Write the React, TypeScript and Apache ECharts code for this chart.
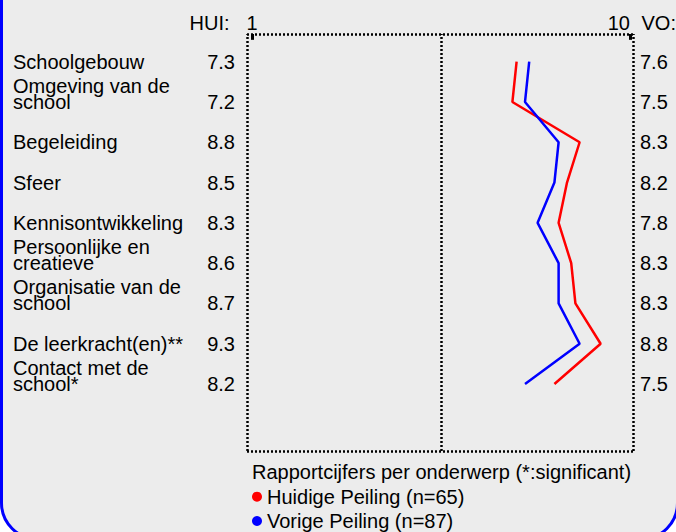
import React, { useEffect, useRef } from "react";
import * as echarts from "echarts";

const categories = [
  "Schoolgebouw",
  "Omgeving van de\nschool",
  "Begeleiding",
  "Sfeer",
  "Kennisontwikkeling",
  "Persoonlijke en\ncreatieve",
  "Organisatie van de\nschool",
  "De leerkracht(en)**",
  "Contact met de\nschool*",
];
const huidige = [7.3, 7.2, 8.8, 8.5, 8.3, 8.6, 8.7, 9.3, 8.2];
const vorige = [7.6, 7.5, 8.3, 8.2, 7.8, 8.3, 8.3, 8.8, 7.5];
const scaleMin = 1;
const scaleMax = 10;
const seriesNames = ["Huidige Peiling (n=65)", "Vorige Peiling (n=87)"];
const columnHeaders = ["HUI:", "VO:"];
const chartTitle = "Rapportcijfers per onderwerp (*:significant)";

const FONT = "'Liberation Sans', Arial, sans-serif";
const X_LO = 0.881;
const X_HI = 10.071;

export default function App() {
  const ref = useRef<HTMLDivElement>(null);
  useEffect(() => {
    if (!ref.current) return;
    const chart = echarts.init(ref.current, undefined, { renderer: "svg" });
    const dotted = { color: "#000000", width: 2.5, type: [2, 2] as any, opacity: 1 };
    const tickStyle = { color: "#000000", width: 3, type: "solid" as any, opacity: 1 };
    const hiddenAxis = { axisLine: { show: false }, axisTick: { show: false }, splitLine: { show: false } };
    const option: any = {
      animation: false,
      backgroundColor: "transparent",
      textStyle: { fontFamily: FONT, color: "#000" },
      graphic: [
        {
          type: "rect",
          z: -10,
          shape: { x: 1.5, y: -40, width: 676, height: 579, r: 36 },
          style: { fill: "#ececec", stroke: "#0000ff", lineWidth: 3 },
        },
        {
          type: "text",
          x: 229.5,
          y: 23,
          style: { text: columnHeaders[0], align: "right", verticalAlign: "middle", fontSize: 20, fontFamily: FONT, fill: "#000" },
        },
        {
          type: "text",
          x: 641.5,
          y: 23,
          style: { text: columnHeaders[1], align: "left", verticalAlign: "middle", fontSize: 20, fontFamily: FONT, fill: "#000" },
        },
      ],
      title: {
        text: chartTitle,
        left: 252,
        top: 462.4,
        padding: 0,
        textStyle: { fontSize: 20, fontWeight: "normal", color: "#000", fontFamily: FONT },
      },
      legend: {
        data: seriesNames,
        orient: "vertical",
        left: 252,
        top: 486.7,
        padding: 0,
        itemGap: 4.3,
        icon: "circle",
        itemWidth: 10,
        itemHeight: 10,
        selectedMode: false,
        textStyle: { fontSize: 20, color: "#000", fontFamily: FONT },
      },
      grid: [
        { left: 247, top: 34, width: 386, height: 417 },
        { left: 247, top: 41.5, width: 386, height: 362.7 },
        { left: 252, top: 34.3, width: 378, height: 10 },
      ],
      xAxis: [
        { gridIndex: 0, type: "value", min: X_LO, max: X_HI, show: false },
        { gridIndex: 1, type: "value", min: X_LO, max: X_HI, show: false },
        {
          gridIndex: 2,
          type: "value",
          min: scaleMin,
          max: scaleMax,
          interval: scaleMax - scaleMin,
          position: "top",
          ...hiddenAxis,
          axisLabel: { margin: 1, fontSize: 20, color: "#000", fontFamily: FONT, alignMaxLabel: "right" },
        },
      ],
      yAxis: [
        { gridIndex: 0, type: "value", min: 0, max: 1, show: false },
        {
          gridIndex: 1, type: "category", inverse: true, data: categories, position: "left", offset: 233,
          ...hiddenAxis,
          axisLabel: {
            interval: 0, align: "left", margin: 1, fontSize: 20, lineHeight: 16, color: "#000", fontFamily: FONT,
            formatter: (v: string) => (v.indexOf("\n") >= 0 ? v + "\n" : v),
          },
        },
        {
          gridIndex: 1, type: "category", inverse: true, data: categories, position: "left", offset: 0,
          ...hiddenAxis,
          axisLabel: { interval: 0, margin: 12, fontSize: 20, color: "#000", fontFamily: FONT, formatter: (_v: string, i: number) => huidige[i].toFixed(1) },
        },
        {
          gridIndex: 1, type: "category", inverse: true, data: categories, position: "right", offset: 0,
          ...hiddenAxis,
          axisLabel: { interval: 0, margin: 7, fontSize: 20, color: "#000", fontFamily: FONT, formatter: (_v: string, i: number) => vorige[i].toFixed(1) },
        },
        { gridIndex: 2, type: "value", min: 0, max: 1, show: false },
      ],
      series: [
        {
          name: "frame",
          type: "line",
          xAxisIndex: 0,
          yAxisIndex: 0,
          data: [[(scaleMin + scaleMax) / 2, 0.5]],
          symbol: "none",
          lineStyle: { opacity: 0 },
          clip: false,
          silent: true,
          markLine: {
            silent: true,
            symbol: "none",
            label: { show: false },
            emphasis: { disabled: true },
            data: [
              [{ coord: [X_LO, 0], lineStyle: dotted }, { coord: [X_LO, 1] }],
              [{ coord: [X_HI, 0], lineStyle: dotted }, { coord: [X_HI, 1] }],
              [{ coord: [X_LO, 1], lineStyle: dotted }, { coord: [X_HI, 1] }],
              [{ coord: [X_LO, 0], lineStyle: dotted }, { coord: [X_HI, 0] }],
              [{ coord: [(scaleMin + scaleMax) / 2, 0], lineStyle: dotted }, { coord: [(scaleMin + scaleMax) / 2, 1] }],
              [{ coord: [scaleMin, 1], lineStyle: tickStyle }, { coord: [scaleMin, 0.986] }],
              [{ coord: [scaleMax, 1], lineStyle: tickStyle }, { coord: [scaleMax, 0.986] }],
            ],
          },
        },
        {
          name: seriesNames[0], type: "line", xAxisIndex: 1, yAxisIndex: 1,
          data: huidige.map((v, i) => [v, i]), symbol: "none", showSymbol: false,
          itemStyle: { color: "#ff0000" }, lineStyle: { color: "#ff0000", width: 2.5 },
        },
        {
          name: seriesNames[1], type: "line", xAxisIndex: 1, yAxisIndex: 1,
          data: vorige.map((v, i) => [v, i]), symbol: "none", showSymbol: false,
          itemStyle: { color: "#0000ff" }, lineStyle: { color: "#0000ff", width: 2.5 },
        },
      ],
    };
    chart.setOption(option);
    return () => chart.dispose();
  }, []);
  return (
    <div
      ref={ref}
      style={{ position: "fixed", left: 0, top: 0, width: 676, height: 532, background: "#fff" }}
    />
  );
}
